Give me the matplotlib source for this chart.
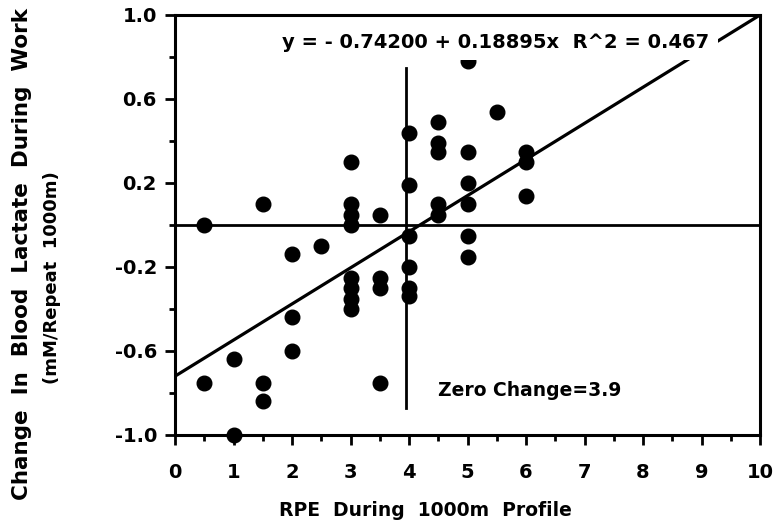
import numpy as np
import matplotlib.pyplot as plt

plt.rcParams["font.family"] = "DejaVu Sans"
plt.rcParams["font.weight"] = "bold"

########## data ##########
rpe = [0.5, 0.5,
       1, 1,
       1.5, 1.5, 1.5,
       2, 2, 2,
       2.5,
       3, 3, 3, 3, 3, 3, 3, 3,
       3.5, 3.5, 3.5, 3.5,
       4, 4, 4, 4, 4, 4,
       4.5, 4.5, 4.5, 4.5, 4.5,
       5, 5, 5, 5, 5, 5,
       5.5,
       6, 6, 6]
lactate = [0.0, -0.75,
           -0.64, -1.0,
           0.10, -0.75, -0.84,
           -0.14, -0.44, -0.60,
           -0.10,
           0.30, 0.10, 0.05, 0.0, -0.25, -0.30, -0.35, -0.40,
           0.05, -0.25, -0.30, -0.75,
           0.44, 0.19, -0.05, -0.20, -0.30, -0.34,
           0.49, 0.39, 0.35, 0.10, 0.05,
           0.78, 0.35, 0.20, 0.10, -0.05, -0.15,
           0.54,
           0.35, 0.30, 0.14]

fit_x = [0, 10]
fit_y = [-0.72, 1.0]
zero_x = 3.95
zero_span = [-0.87, 0.75]

eq_text = "y = - 0.74200 + 0.18895x  R^2 = 0.467"
zero_text = "Zero Change=3.9"

########## figure ##########
fig = plt.figure(figsize=(7.76, 5.30), dpi=100)
ax = fig.add_axes([175/776, 1-435/530, 585/776, 420/530])

ax.plot(fit_x, fit_y, color='k', lw=2.3, zorder=2)
ax.axhline(0, color='k', lw=2.0, zorder=2)
ax.plot([zero_x, zero_x], zero_span, color='k', lw=2.0, zorder=2)
ax.plot(rpe, lactate, 'o', color='k', ms=10.5, zorder=3, clip_on=False)

ax.text(5.48, 0.87, eq_text, ha='center', va='center', fontsize=14,
        zorder=5, bbox=dict(facecolor='white', edgecolor='none', pad=6))
ax.text(4.5, -0.79, zero_text, ha='left', va='center', fontsize=13.5, zorder=5)

ax.set_xlim(0, 10)
ax.set_ylim(-1.0, 1.0)
ax.set_xticks(np.arange(0, 11, 1))
ax.set_xticks(np.arange(0.5, 10, 1), minor=True)
ax.set_yticks([-1.0, -0.6, -0.2, 0.2, 0.6, 1.0])
ax.set_yticks([-0.8, -0.4, 0.0, 0.4, 0.8], minor=True)
ax.set_yticklabels(['-1.0', '-0.6', '-0.2', '0.2', '0.6', '1.0'])

ax.tick_params(axis='x', which='major', direction='out', length=7, width=2, pad=13, labelsize=14)
ax.tick_params(axis='x', which='minor', direction='out', length=4, width=2)
ax.tick_params(axis='y', which='major', direction='out', length=7, width=2, pad=6, labelsize=14)
ax.tick_params(axis='y', which='minor', direction='out', length=4, width=2)
for s in ax.spines.values():
    s.set_linewidth(2.2)

fig.text(425/776, 1-510/530, "RPE  During  1000m  Profile", ha='center', va='center',
         fontsize=13.5, fontweight='bold')

fig.text(22/776, 1-500/530, "Change  In  Blood  Lactate  During  Work", rotation=90,
         ha='center', va='bottom', fontsize=15.5, fontweight='bold')
fig.text(52/776, 1-278/530, "(mM/Repeat  1000m)", rotation=90,
         ha='center', va='center', fontsize=13, fontweight='bold')

fig.savefig('out.png', dpi=100)
